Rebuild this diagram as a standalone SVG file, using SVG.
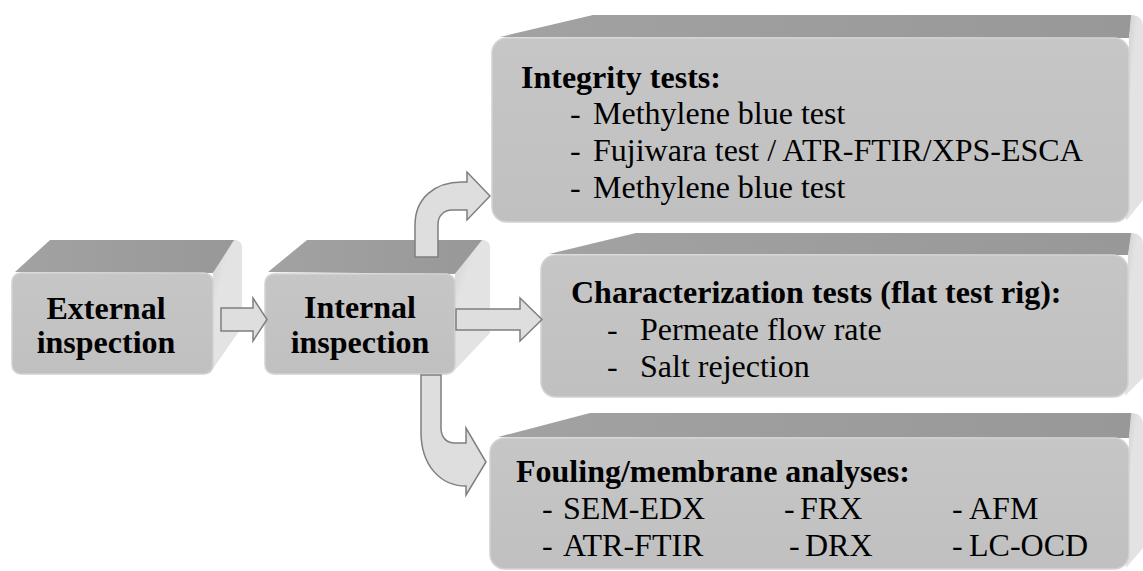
<svg xmlns="http://www.w3.org/2000/svg" width="1143" height="571" viewBox="0 0 1143 571">
<defs>
<linearGradient id="gFront" x1="0" y1="0" x2="0" y2="1">
<stop offset="0" stop-color="#c6c6c6"/><stop offset="1" stop-color="#c0c0c0"/>
</linearGradient>
<linearGradient id="gTop" x1="0" y1="0" x2="1" y2="0">
<stop offset="0" stop-color="#a2a2a2"/><stop offset="1" stop-color="#989898"/>
</linearGradient>
<linearGradient id="gRight" x1="0" y1="0" x2="0.3" y2="0.35">
<stop offset="0" stop-color="#9c9c9c"/><stop offset="0.45" stop-color="#d6d6d6"/><stop offset="1" stop-color="#e3e3e3"/>
</linearGradient>
<style>
.front{fill:url(#gFront);stroke:#d2d2d2;stroke-width:1.5}
.top{fill:url(#gTop)}
.right{fill:url(#gRight)}
.arrow{fill:#dedede;stroke:#7f7f7f;stroke-width:1.5;stroke-linejoin:miter}
.tb{font-family:"Liberation Serif","Times New Roman",serif;font-weight:bold;font-size:32px;fill:#000}
.tr{font-family:"Liberation Serif","Times New Roman",serif;font-size:32px;fill:#000}
</style>
</defs>

<g id="external">
<polygon class="top" points="15,272 50,240 236,240 213,273"/>
<path class="right" d="M213,273 L234,240 Q242,240 242,248 L242,327 L210,373 Z"/>
<rect class="front" x="12" y="273" width="201" height="101" rx="9"/>
<text class="tb" text-anchor="middle" x="106" y="319">External</text>
<text class="tb" text-anchor="middle" x="106" y="353">inspection</text>
</g>

<g id="internal">
<polygon class="top" points="268,272 307,240 484,240 455,274"/>
<path class="right" d="M455,274 L482,240 Q490,240 490,248 L490,333 L452,373 Z"/>
<rect class="front" x="265" y="274" width="190" height="100" rx="9"/>
<text class="tb" text-anchor="middle" x="360" y="318">Internal</text>
<text class="tb" text-anchor="middle" x="360" y="353">inspection</text>
</g>

<g id="integrity">
<polygon class="top" points="500,37 593,15 1132,15 1129,38"/>
<path class="right" d="M1129,38 L1131,15 Q1143,15 1143,27 L1143,200 L1126,221 Z"/>
<rect class="front" x="492" y="38" width="637" height="184" rx="15"/>
<text class="tb" x="521" y="88">Integrity tests:</text>
<text class="tr" x="570" y="124">-</text><text class="tr" x="593" y="124">Methylene blue test</text>
<text class="tr" x="570" y="161">-</text><text class="tr" x="593" y="161">Fujiwara test / ATR-FTIR/XPS-ESCA</text>
<text class="tr" x="570" y="198">-</text><text class="tr" x="593" y="198">Methylene blue test</text>
</g>

<g id="characterization">
<polygon class="top" points="549,254 636,233 1132,233 1128,255"/>
<path class="right" d="M1128,255 L1131,233 Q1143,233 1143,245 L1143,378 L1125,396 Z"/>
<rect class="front" x="541" y="255" width="587" height="142" rx="15"/>
<text class="tb" x="571" y="303">Characterization tests (flat test rig):</text>
<text class="tr" x="607" y="340">-</text><text class="tr" x="640" y="340">Permeate flow rate</text>
<text class="tr" x="607" y="377">-</text><text class="tr" x="640" y="377">Salt rejection</text>
</g>

<g id="fouling">
<polygon class="top" points="498,437 590,413 1132,413 1129,438"/>
<path class="right" d="M1129,438 L1131,413 Q1143,413 1143,425 L1143,548 L1126,568 Z"/>
<rect class="front" x="490" y="438" width="639" height="131" rx="15"/>
<text class="tb" x="516" y="482">Fouling/membrane analyses:</text>
<text class="tr" x="542" y="519">-</text><text class="tr" x="563" y="519">SEM-EDX</text>
<text class="tr" x="784" y="519">-</text><text class="tr" x="800" y="519">FRX</text>
<text class="tr" x="952" y="519">-</text><text class="tr" x="969" y="519">AFM</text>
<text class="tr" x="542" y="556">-</text><text class="tr" x="563" y="556">ATR-FTIR</text>
<text class="tr" x="789" y="556">-</text><text class="tr" x="805" y="556">DRX</text>
<text class="tr" x="952" y="556">-</text><text class="tr" x="969" y="556">LC-OCD</text>
</g>

<g id="connectors">
<path class="arrow" d="M221,308 L253,308 L253,298 L267,319.5 L253,341 L253,331 L221,331 Z"/>
<path class="arrow" d="M456,309 L520,309 L520,298 L542,319.5 L520,341 L520,330 L456,330 Z"/>
<path class="arrow" d="M415,257 L415,225 C415,198 435,182 462,182 L467,182 L467,172 L490,196 L467,220 L467,210 L452,210 C444,210 438,216 438,224 L438,257 Z"/>
<path class="arrow" d="M421,375 L441,375 L441,428 C441,437 446,443 455,443 L466,443 L466,428 L486,462 L466,495 L466,486 C440,486 421,465 421,432 Z"/>
</g>
</svg>
